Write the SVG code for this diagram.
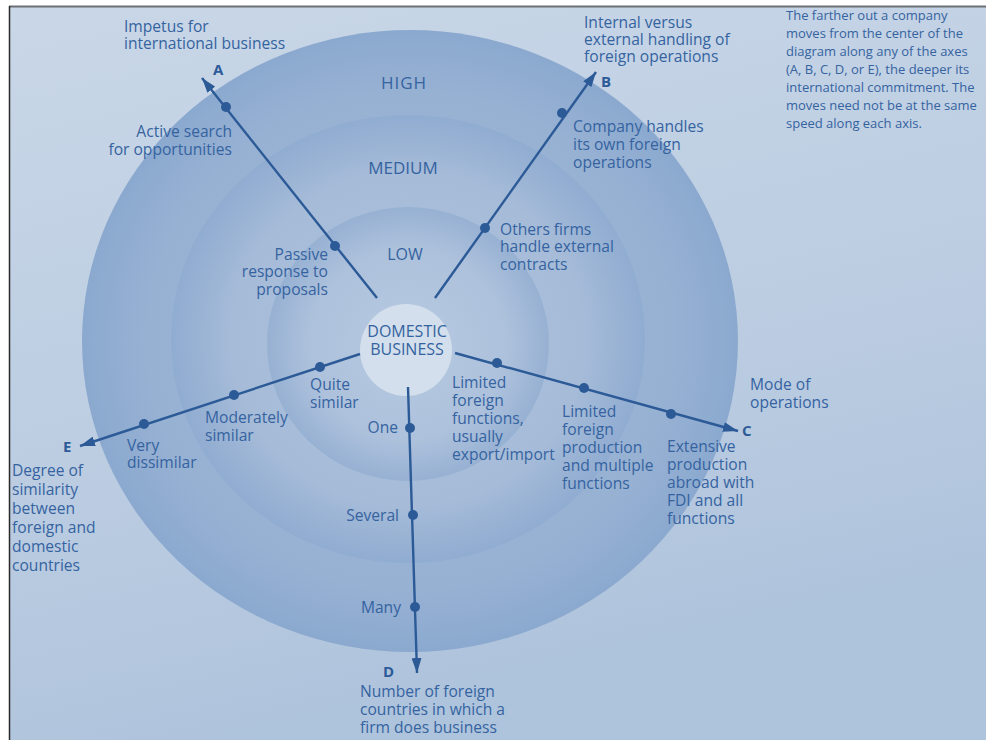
<svg xmlns="http://www.w3.org/2000/svg" width="986" height="740" viewBox="0 0 986 740">
  <style>
    .lbl { font-family: "Open Sans", "Noto Sans", "DejaVu Sans", sans-serif; font-size: 15.6px; fill: #3563a0; }
    .note { font-family: "Open Sans", "Noto Sans", "DejaVu Sans", sans-serif; font-size: 13px; fill: #3563a0; }
    .lvl { font-family: "Open Sans", "Noto Sans", "DejaVu Sans", sans-serif; font-size: 16px; fill: #3563a0; }
    .axis-id { font-family: "Open Sans", "Noto Sans", "DejaVu Sans", sans-serif; font-size: 15px; font-weight: bold; fill: #2d5b98; }
    .end { text-anchor: end; }
    .mid { text-anchor: middle; }
    .axis { stroke: #2c5a97; stroke-width: 2.4; fill: none; }
    .dot { fill: #2c5a97; }
  </style>
  <defs>
    <linearGradient id="paper" x1="0" y1="0" x2="0.3" y2="1">
      <stop offset="0" stop-color="#c9d7e7"/>
      <stop offset="0.6" stop-color="#bccde2"/>
      <stop offset="1" stop-color="#aec3dc"/>
    </linearGradient>
    <radialGradient id="gHigh" cx="0.5" cy="0.5" r="0.5">
      <stop offset="0" stop-color="#a1b9d7"/>
      <stop offset="0.8" stop-color="#97b1d3"/>
      <stop offset="1" stop-color="#8ba9cf"/>
    </radialGradient>
    <radialGradient id="gMed" cx="0.5" cy="0.5" r="0.5">
      <stop offset="0" stop-color="#b0c3dd"/>
      <stop offset="0.75" stop-color="#a5bbd8"/>
      <stop offset="1" stop-color="#90acd1"/>
    </radialGradient>
    <radialGradient id="gLow" cx="0.5" cy="0.5" r="0.5">
      <stop offset="0" stop-color="#b8cae1"/>
      <stop offset="0.7" stop-color="#adc1dc"/>
      <stop offset="1" stop-color="#97b1d3"/>
    </radialGradient>
    <marker id="arrow" viewBox="0 0 15 10" refX="15" refY="5" markerWidth="15" markerHeight="10" markerUnits="userSpaceOnUse" orient="auto">
      <path d="M0,0 L15,5 L0,10 z" fill="#2c5a97"/>
    </marker>
  </defs>

  <!-- page background and frame -->
  <rect x="0" y="0" width="986" height="740" fill="url(#paper)"/>
  <rect x="0" y="0" width="986" height="6" fill="#ffffff"/>
  <rect x="0" y="0" width="9" height="740" fill="#ffffff"/>
  <line x1="9" y1="6.5" x2="986" y2="6.5" stroke="#6d7175" stroke-width="2"/>
  <line x1="9.5" y1="6" x2="9.5" y2="740" stroke="#2a2a2a" stroke-width="1.5"/>

  <!-- commitment levels -->
  <g id="ring-high">
    <ellipse cx="410" cy="341" rx="328" ry="311" fill="url(#gHigh)"/>
    <text class="lvl mid" x="404" y="89" style="font-size:17px;letter-spacing:1px">HIGH</text>
  </g>
  <g id="ring-medium">
    <ellipse cx="408" cy="339" rx="237" ry="224" fill="url(#gMed)"/>
    <text class="lvl mid" x="403" y="174" style="font-size:17px">MEDIUM</text>
  </g>
  <g id="ring-low">
    <ellipse cx="408" cy="344" rx="141" ry="137" fill="url(#gLow)"/>
    <text class="lvl mid" x="405" y="260">LOW</text>
  </g>
  <g id="domestic">
    <circle cx="406" cy="350" r="46" fill="#d3dfec"/>
    <text class="lvl mid" x="407" y="337">DOMESTIC</text>
    <text class="lvl mid" x="407" y="355">BUSINESS</text>
  </g>

  <!-- axes -->
  <g id="connectors">
    <line class="axis" x1="377" y1="298" x2="202" y2="78" marker-end="url(#arrow)"/>
    <line class="axis" x1="435" y1="298" x2="596" y2="72" marker-end="url(#arrow)"/>
    <line class="axis" x1="455" y1="353" x2="738" y2="431" marker-end="url(#arrow)"/>
    <line class="axis" x1="408" y1="387" x2="417" y2="673" marker-end="url(#arrow)"/>
    <line class="axis" x1="360" y1="354" x2="80" y2="446" marker-end="url(#arrow)"/>
  </g>

  <g id="axis-points">
    <circle class="dot" cx="335" cy="246" r="5"/>
    <circle class="dot" cx="226" cy="107" r="5"/>
    <circle class="dot" cx="485" cy="228" r="5"/>
    <circle class="dot" cx="562" cy="113" r="5"/>
    <circle class="dot" cx="497" cy="363" r="5"/>
    <circle class="dot" cx="584" cy="388" r="5"/>
    <circle class="dot" cx="671" cy="414" r="5"/>
    <circle class="dot" cx="410" cy="428" r="5"/>
    <circle class="dot" cx="413" cy="515" r="5"/>
    <circle class="dot" cx="415" cy="607" r="5"/>
    <circle class="dot" cx="320" cy="367" r="5"/>
    <circle class="dot" cx="234" cy="395" r="5"/>
    <circle class="dot" cx="144" cy="424" r="5"/>
  </g>

  <!-- axis A -->
  <g id="axis-a">
    <text class="lbl" x="124" y="32">Impetus for</text>
    <text class="lbl" x="124" y="49">international business</text>
    <text class="axis-id" x="213" y="75">A</text>
    <text class="lbl end" x="232" y="137">Active search</text>
    <text class="lbl end" x="232" y="155">for opportunities</text>
    <text class="lbl end" x="328" y="260">Passive</text>
    <text class="lbl end" x="328" y="277">response to</text>
    <text class="lbl end" x="328" y="295">proposals</text>
  </g>

  <!-- axis B -->
  <g id="axis-b">
    <text class="lbl" x="584" y="28">Internal versus</text>
    <text class="lbl" x="584" y="45">external handling of</text>
    <text class="lbl" x="584" y="62">foreign operations</text>
    <text class="axis-id" x="601" y="87">B</text>
    <text class="lbl" x="573" y="132">Company handles</text>
    <text class="lbl" x="573" y="150">its own foreign</text>
    <text class="lbl" x="573" y="168">operations</text>
    <text class="lbl" x="500" y="235">Others firms</text>
    <text class="lbl" x="500" y="252">handle external</text>
    <text class="lbl" x="500" y="270">contracts</text>
  </g>

  <!-- axis C -->
  <g id="axis-c">
    <text class="lbl" x="750" y="390">Mode of</text>
    <text class="lbl" x="750" y="408">operations</text>
    <text class="axis-id" x="742" y="436">C</text>
    <text class="lbl" x="452" y="388">Limited</text>
    <text class="lbl" x="452" y="406">foreign</text>
    <text class="lbl" x="452" y="424">functions,</text>
    <text class="lbl" x="452" y="442">usually</text>
    <text class="lbl" x="452" y="460">export/import</text>
    <text class="lbl" x="562" y="417">Limited</text>
    <text class="lbl" x="562" y="435">foreign</text>
    <text class="lbl" x="562" y="453">production</text>
    <text class="lbl" x="562" y="471">and multiple</text>
    <text class="lbl" x="562" y="489">functions</text>
    <text class="lbl" x="667" y="452">Extensive</text>
    <text class="lbl" x="667" y="470">production</text>
    <text class="lbl" x="667" y="488">abroad with</text>
    <text class="lbl" x="667" y="506">FDI and all</text>
    <text class="lbl" x="667" y="524">functions</text>
  </g>

  <!-- axis D -->
  <g id="axis-d">
    <text class="lbl end" x="398" y="433">One</text>
    <text class="lbl end" x="399" y="521">Several</text>
    <text class="lbl end" x="401" y="613">Many</text>
    <text class="axis-id" x="383" y="677">D</text>
    <text class="lbl" x="360" y="697">Number of foreign</text>
    <text class="lbl" x="360" y="715">countries in which a</text>
    <text class="lbl" x="360" y="733">firm does business</text>
  </g>

  <!-- axis E -->
  <g id="axis-e">
    <text class="lbl" x="310" y="390">Quite</text>
    <text class="lbl" x="310" y="408">similar</text>
    <text class="lbl" x="205" y="423">Moderately</text>
    <text class="lbl" x="205" y="441">similar</text>
    <text class="lbl" x="127" y="451">Very</text>
    <text class="lbl" x="127" y="468">dissimilar</text>
    <text class="axis-id" x="63" y="452">E</text>
    <text class="lbl" x="12" y="476">Degree of</text>
    <text class="lbl" x="12" y="495">similarity</text>
    <text class="lbl" x="12" y="514">between</text>
    <text class="lbl" x="12" y="533">foreign and</text>
    <text class="lbl" x="12" y="552">domestic</text>
    <text class="lbl" x="12" y="571">countries</text>
  </g>

  <!-- explanatory note -->
  <g id="note">
    <text class="note" x="786" y="20">The farther out a company</text>
    <text class="note" x="786" y="38">moves from the center of the</text>
    <text class="note" x="786" y="56">diagram along any of the axes</text>
    <text class="note" x="786" y="74">(A, B, C, D, or E), the deeper its</text>
    <text class="note" x="786" y="92">international commitment. The</text>
    <text class="note" x="786" y="110">moves need not be at the same</text>
    <text class="note" x="786" y="128">speed along each axis.</text>
  </g>
</svg>
